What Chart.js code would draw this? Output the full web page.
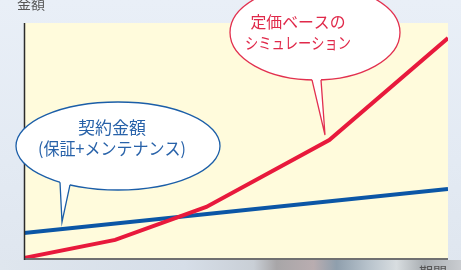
<!DOCTYPE html>
<html>
<head>
<meta charset="utf-8">
<script src="https://cdn.jsdelivr.net/npm/chart.js@4"></script>
<style>
  html, body { margin: 0; padding: 0; }
  body {
    width: 461px; height: 270px; overflow: hidden; position: relative;
    background: linear-gradient(180deg, #e9eff7 0%, #e3eaf3 60%, #dfe6ef 100%);
    font-family: "Noto Sans CJK JP", "Noto Sans", sans-serif;
  }
  #strip {
    position: absolute; left: 0; top: 260px; width: 461px; height: 10px;
    background: linear-gradient(90deg, #dfe6ee 0%, #d6dee8 40%, #c9cfd6 55%, #a8a6a8 60%, #b9adb0 68%, #8f9fad 73%, #b8c3cc 80%, #d8dde0 86%, #a9aeb2 92%, #c9ccd0 100%);
  }
  canvas { position: absolute; left: 0; top: 0; }
  .lbl { position: absolute; font-size: 14px; color: #555; line-height: 1; }
</style>
</head>
<body>
<div id="strip"></div>
<canvas id="chart" width="461" height="270"></canvas>
<div class="lbl" style="left:17px; top:-4px;">金額</div>
<div class="lbl" style="left:419px; top:264px;">期間</div>
<script>
// period (arbitrary units 0-100) and amount (0-100)
const redX = [0, 21.5, 43, 72, 100];
const redY = [0, 7.7, 21.7, 50.2, 93.6];
const blueX = [0, 100];
const blueY = [10.6, 29.4];

const redLabel = ['定価ベースの', 'シミュレーション'];
const blueLabel = ['契約金額', '(保証+メンテナンス)'];

function toPoints(xs, ys) {
    return xs.map(function(x, i) { return { x: x, y: ys[i] }; });
}

// yellow plot area and axis lines
const backdrop = {
    id: 'backdrop',
    beforeDraw: function(chart) {
        const a = chart.chartArea;
        const ctx = chart.ctx;
        ctx.save();
        ctx.fillStyle = '#fffbdc';
        ctx.fillRect(a.left, a.top, a.right - a.left, a.bottom - a.top);
        ctx.restore();
    },
    afterDatasetsDraw: function(chart) {
        const a = chart.chartArea;
        const ctx = chart.ctx;
        ctx.save();
        ctx.strokeStyle = '#707070';
        ctx.lineWidth = 2;
        ctx.beginPath();
        ctx.moveTo(a.left, a.bottom + 1);
        ctx.lineTo(a.right, a.bottom + 1);
        ctx.stroke();
        ctx.strokeStyle = '#2b2b2b';
        ctx.lineWidth = 1.5;
        ctx.beginPath();
        ctx.moveTo(a.left + 0.5, a.top);
        ctx.lineTo(a.left + 0.5, a.bottom + 2);
        ctx.stroke();
        ctx.restore();
    }
};

function bubble(ctx, b) {
    const by = function(x) {
        const d = (x - b.cx) / b.rx;
        return b.cy + b.ry * Math.sqrt(1 - d * d);
    };
    ctx.save();
    ctx.lineWidth = 1.3;
    ctx.strokeStyle = b.stroke;
    ctx.fillStyle = '#ffffff';
    ctx.beginPath();
    ctx.ellipse(b.cx, b.cy, b.rx, b.ry, 0, 0, Math.PI * 2);
    ctx.fill();
    ctx.stroke();
    // tail
    const y1 = by(b.t1), y2 = by(b.t2);
    ctx.beginPath();
    ctx.moveTo(b.t1, y1 - 4);
    ctx.lineTo(b.t1, y1);
    ctx.lineTo(b.tipX, b.tipY);
    ctx.lineTo(b.t2, y2);
    ctx.lineTo(b.t2, y2 - 4);
    ctx.closePath();
    ctx.fill();
    ctx.beginPath();
    ctx.moveTo(b.t1, y1);
    ctx.lineTo(b.tipX, b.tipY);
    ctx.lineTo(b.t2, y2);
    ctx.stroke();
    // text
    ctx.fillStyle = b.color;
    ctx.textAlign = 'center';
    ctx.textBaseline = 'middle';
    ctx.font = b.font;
    b.lines.forEach(function(t, i) {
        ctx.fillText(t, b.tx, b.ty[i], b.maxW[i]);
    });
    ctx.restore();
}

const bubbles = {
    id: 'bubbles',
    afterDraw: function(chart) {
        const ctx = chart.ctx;
        bubble(ctx, {
            cx: 118, cy: 146, rx: 102, ry: 44,
            t1: 60, t2: 70, tipX: 62, tipY: 222,
            stroke: '#1b5ea8', color: '#2862a9',
            font: '17px "Noto Sans CJK JP"',
            lines: blueLabel, tx: 112, ty: [128, 149], maxW: [72, 148]
        });
        bubble(ctx, {
            cx: 315, cy: 32.5, rx: 85, ry: 47.5,
            t1: 312, t2: 321, tipX: 325, tipY: 135,
            stroke: '#e2304f', color: '#e0294a',
            font: '16px "Noto Sans CJK JP"',
            lines: redLabel, tx: 298, ty: [22, 43], maxW: [95, 106]
        });
    }
};

new Chart(document.getElementById('chart').getContext('2d'), {
    type: 'line',
    data: {
        datasets: [{
            label: '定価ベースのシミュレーション',
            data: toPoints(redX, redY),
            borderColor: '#e8193c',
            borderWidth: 4,
            pointRadius: 0,
            tension: 0
        }, {
            label: '契約金額',
            data: toPoints(blueX, blueY),
            borderColor: '#0b56a6',
            borderWidth: 4,
            pointRadius: 0,
            tension: 0
        }]
    },
    options: {
        responsive: false,
        animation: false,
        layout: { padding: { left: 24, right: 13, top: 23, bottom: 12 } },
        plugins: { legend: { display: false }, tooltip: { enabled: false } },
        scales: {
            x: { type: 'linear', min: 0, max: 100, display: false },
            y: { min: 0, max: 100, display: false }
        }
    },
    plugins: [backdrop, bubbles]
});
</script>
</body>
</html>
